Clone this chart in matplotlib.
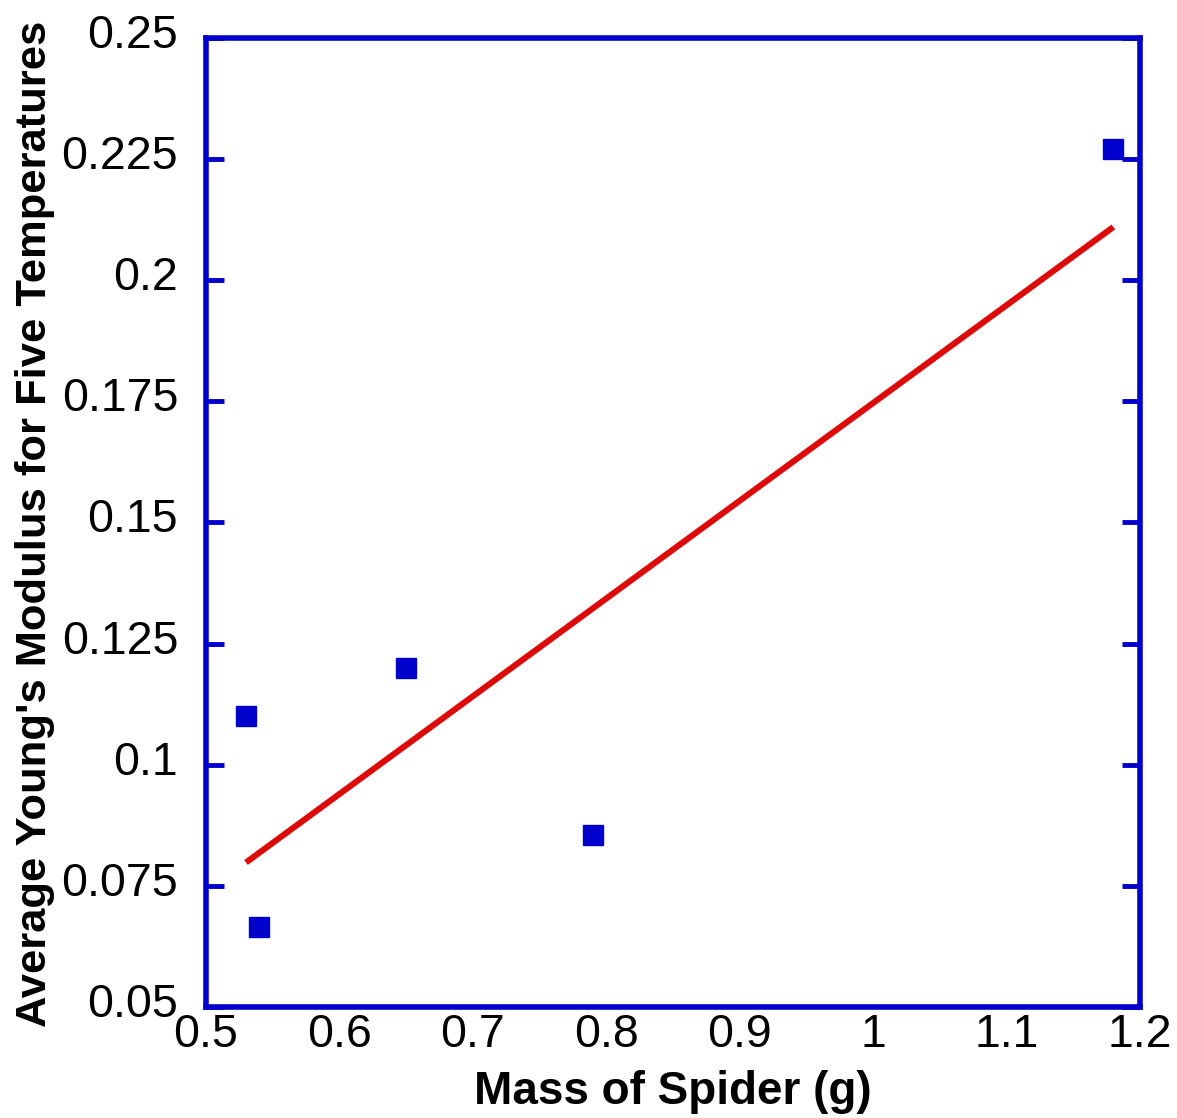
import numpy as np
import matplotlib
matplotlib.use("Agg")
import matplotlib.pyplot as plt
from matplotlib.transforms import ScaledTranslation

# data
mass = [0.53, 0.54, 0.65, 0.79, 1.18]
modulus = [0.110, 0.0665, 0.120, 0.0855, 0.227]

x_ticks = [0.5, 0.6, 0.7, 0.8, 0.9, 1.0, 1.1, 1.2]
x_labels = ["0.5", "0.6", "0.7", "0.8", "0.9", "1", "1.1", "1.2"]
y_ticks = [0.05, 0.075, 0.1, 0.125, 0.15, 0.175, 0.2, 0.225, 0.25]
y_labels = ["0.05", "0.075", "0.1", "0.125", "0.15", "0.175", "0.2", "0.225", "0.25"]

blue = "#0000cc"
red = "#dd0a0a"

plt.rcParams['font.family'] = ['Liberation Sans', 'DejaVu Sans']

fig = plt.figure(figsize=(11.77, 11.18), dpi=100)
ax = fig.add_axes([0.1750, 0.0993, 0.7936, 0.8667])

ax.plot(mass, modulus, linestyle="none", marker="s", markersize=15,
        color=blue, zorder=3)

# least squares line over the data range
slope, intercept = np.polyfit(mass, modulus, 1)
fit_x = np.array([min(mass), max(mass)])
ax.plot(fit_x, slope * fit_x + intercept, color=red, linewidth=4.4,
        solid_capstyle="butt", zorder=2)

ax.set_xlim(0.5, 1.2)
ax.set_ylim(0.05, 0.25)
ax.set_xticks(x_ticks)
ax.set_xticklabels(x_labels)
ax.set_yticks(y_ticks)
ax.set_yticklabels(y_labels)

for s in ax.spines.values():
    s.set_color(blue)
    s.set_linewidth(4)

ax.tick_params(axis="x", length=0, labelsize=33.5, pad=4)
ax.tick_params(axis="y", direction="in", length=13, width=3.5, color=blue,
               labelsize=33.5, pad=20, left=True, right=True)

# nudge y tick labels up a little, like the original
shift = ScaledTranslation(0, 7 / 100, fig.dpi_scale_trans)
for lab in ax.get_yticklabels():
    lab.set_transform(lab.get_transform() + shift)

ax.set_xlabel("Mass of Spider (g)", fontsize=33, fontweight="bold", labelpad=10)
ax.set_ylabel("Average Young's Modulus for Five Temperatures", fontsize=31.3,
              fontweight="bold")
ax.yaxis.set_label_coords(-0.162, 0.499)

fig.savefig("out.png", dpi=100)
